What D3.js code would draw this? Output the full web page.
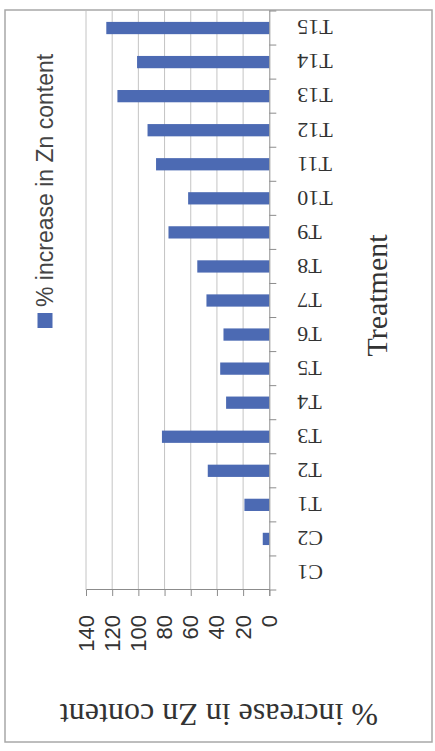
<!DOCTYPE html>
<html>
<head>
<meta charset="utf-8">
<script src="https://cdn.jsdelivr.net/npm/d3@7"></script>
<style>
  body { margin: 0; background: #fff; }
  svg { display: block; }
</style>
</head>
<body>
<svg id="chart"></svg>
<script>
var treatments = ["C1","C2","T1","T2","T3","T4","T5","T6","T7","T8","T9","T10","T11","T12","T13","T14","T15"];
var zincIncrease = [0, 5, 19, 47, 82, 33, 37.5, 35, 48, 55, 77, 62, 86.5, 93, 116, 101, 124.5];
var valueTicks = [0, 20, 40, 60, 80, 100, 120, 140];
var seriesName = "% increase in Zn content";

var width = 435, height = 751;
// chart is drawn upright in a 751x435 frame, then turned a quarter left
var W = 751, H = 435;

var svg = d3.select("#chart")
    .attr("width", width)
    .attr("height", height);

var g = svg.append("g")
    .attr("transform", "translate(0," + height + ") rotate(-90)");

// outer frame
g.append("rect")
    .attr("x", 9).attr("y", 5)
    .attr("width", 732).attr("height", 427)
    .attr("fill", "#fff")
    .attr("stroke", "#a8a8a8")
    .attr("stroke-width", 1.5);

var plot = {left: 161, right: 740, top: 86, bottom: 269.3};

var x = d3.scaleBand()
    .domain(treatments)
    .range([plot.left, plot.right])
    .paddingInner(0.64)
    .paddingOuter(0.32);

var y = d3.scaleLinear()
    .domain([0, 140])
    .range([plot.bottom, plot.top]);

// gridlines
g.append("g").selectAll("line")
    .data(valueTicks.slice(1))
    .enter().append("line")
    .attr("x1", plot.left).attr("x2", plot.right)
    .attr("y1", function(d) { return y(d); })
    .attr("y2", function(d) { return y(d); })
    .attr("stroke", "#c4c4c4")
    .attr("stroke-width", 1);

// bars
g.append("g").selectAll("rect")
    .data(zincIncrease)
    .enter().append("rect")
    .attr("x", function(d, i) { return x(treatments[i]); })
    .attr("width", x.bandwidth())
    .attr("y", function(d) { return y(d); })
    .attr("height", function(d) { return y(0) - y(d); })
    .attr("fill", "#4c6ab3");

// value axis
var yAxis = g.append("g")
    .attr("transform", "translate(" + plot.left + ",0)")
    .call(d3.axisLeft(y).tickValues(valueTicks).tickSize(6).tickPadding(19));
yAxis.select(".domain").attr("stroke", "#8c8c8c");
yAxis.selectAll(".tick line").attr("stroke", "#8c8c8c");
yAxis.selectAll("text")
    .attr("font-family", "Liberation Sans, Arial, sans-serif")
    .attr("font-size", "22px")
    .attr("fill", "#333");

// category axis, ticks between categories
var xAxis = g.append("g")
    .attr("transform", "translate(0," + plot.bottom + ")")
    .call(d3.axisBottom(x).tickSize(0).tickPadding(28));
xAxis.select(".domain").attr("stroke", "#8c8c8c");
xAxis.selectAll("text")
    .attr("font-family", "Liberation Serif, Times New Roman, serif")
    .attr("font-size", "22px")
    .attr("fill", "#333")
    .attr("transform", "rotate(-90)")
    .attr("text-anchor", "end")
    .attr("x", -28)
    .attr("y", 0)
    .attr("dy", "0.35em");

var bounds = d3.range(treatments.length + 1).map(function(i) { return plot.left + i * x.step(); });
xAxis.append("g").selectAll("line")
    .data(bounds)
    .enter().append("line")
    .attr("x1", function(d) { return d; }).attr("x2", function(d) { return d; })
    .attr("y1", 0).attr("y2", 7)
    .attr("stroke", "#8c8c8c");

// axis titles
g.append("text")
    .text("Treatment")
    .attr("x", (plot.left + plot.right) / 2 + 5)
    .attr("y", 376)
    .attr("dy", "0.35em")
    .attr("text-anchor", "middle")
    .attr("font-family", "Liberation Serif, Times New Roman, serif")
    .attr("font-size", "30px")
    .attr("fill", "#333");

g.append("text")
    .text(seriesName)
    .attr("transform", "translate(36,219) rotate(-90)")
    .attr("dy", "0.35em")
    .attr("text-anchor", "middle")
    .attr("font-family", "Liberation Serif, Times New Roman, serif")
    .attr("font-size", "32px")
    .attr("fill", "#333");

// legend
var legend = g.append("g").attr("transform", "translate(423,45)");
legend.append("rect")
    .attr("x", 0).attr("y", -7.5)
    .attr("width", 15).attr("height", 15)
    .attr("fill", "#4c6ab3");
legend.append("text")
    .text(seriesName)
    .attr("x", 21)
    .attr("dy", "0.35em")
    .attr("font-family", "Liberation Sans, Arial, sans-serif")
    .attr("font-size", "23px")
    .attr("fill", "#444");
</script>
</body>
</html>
